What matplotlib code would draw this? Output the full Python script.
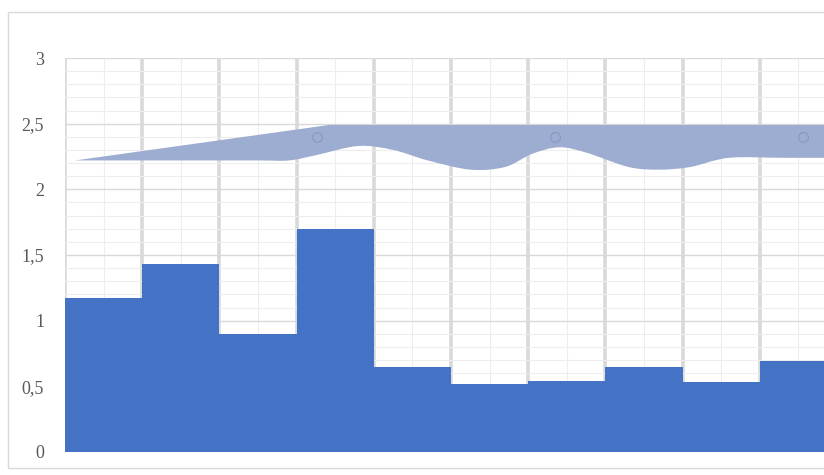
import matplotlib.pyplot as plt
from matplotlib.path import Path
from matplotlib.patches import PathPatch, Rectangle
import numpy as np

# bar values, one per category (last one is cut by the right edge)
bar_values = [1.17, 1.43, 0.90, 1.70, 0.65, 0.52, 0.54, 0.65, 0.53, 0.69]

# gray band: upper edge and wavy lower edge, x in category units
band_upper_x = [-0.37, 2.92, 9.6]
band_upper_y = [2.22, 2.49, 2.49]
band_lower_x = [-0.37, 1.0, 2.0, 2.4, 2.75, 3.3, 3.75, 4.2, 4.75, 5.2, 5.55, 5.9, 6.25, 6.8, 7.2, 7.6,
                8.1, 8.8, 9.6]
band_lower_y = [2.22, 2.22, 2.22, 2.22, 2.26, 2.33, 2.30, 2.22, 2.15, 2.17, 2.27, 2.32, 2.28, 2.17,
                2.15, 2.17, 2.24, 2.24, 2.24]

# hollow markers in the band
marker_x = [2.76, 5.85, 9.06]
marker_y = [2.40, 2.40, 2.40]

y_ticks = [0, 0.5, 1, 1.5, 2, 2.5, 3]
y_labels = ['0', '0,5', '1', '1,5', '2', '2,5', '3']

blue = '#4472c4'
band = '#9dadd1'


def smooth_segments(xs, ys):
    # catmull-rom through the points, as bezier pieces
    pts = np.column_stack([xs, ys])
    verts, codes = [], []
    for i in range(len(pts) - 1):
        p0 = pts[max(i - 1, 0)]
        p1 = pts[i]
        p2 = pts[i + 1]
        p3 = pts[min(i + 2, len(pts) - 1)]
        c1 = p1 + (p2 - p0) / 6.0
        c2 = p2 - (p3 - p1) / 6.0
        verts += [tuple(c1), tuple(c2), tuple(p2)]
        codes += [Path.CURVE4] * 3
    return verts, codes


fig = plt.figure(figsize=(8.24, 4.75), dpi=100)
ax = fig.add_axes([65 / 824, 23 / 475, 772 / 824, 394 / 475])

# outer chart frame
fig.patches.append(Rectangle((8 / 824, 7 / 475), 1.0, 456 / 475, transform=fig.transFigure,
                             fill=False, edgecolor='#d9d9d9', lw=1.0))

x = np.arange(len(bar_values))
ax.bar(x, bar_values, width=1.0, color=blue, zorder=3)

# band polygon: upper edge left->right, lower edge right->left
verts = list(zip(band_upper_x, band_upper_y))
codes = [Path.MOVETO] + [Path.LINETO] * (len(band_upper_x) - 1)
lx = band_lower_x[::-1]
ly = band_lower_y[::-1]
verts.append((lx[0], ly[0]))
codes.append(Path.LINETO)
v2, c2 = smooth_segments(lx, ly)
verts += v2
codes += c2
verts.append(verts[0])
codes.append(Path.CLOSEPOLY)
ax.add_patch(PathPatch(Path(verts, codes), facecolor=band, edgecolor='none', zorder=4))

ax.plot(marker_x, marker_y, linestyle='none', marker='o', markersize=7,
        markerfacecolor='none', markeredgecolor='#8797c0', markeredgewidth=0.8, zorder=5)

ax.set_xlim(-0.5, len(bar_values) - 0.5)
ax.set_ylim(0, 3)

# grid
ax.set_yticks(y_ticks)
ax.set_yticklabels(y_labels)
ax.set_yticks(np.arange(0, 3.01, 0.1), minor=True)
ax.set_xticks(np.arange(-0.5, len(bar_values), 1.0))
ax.set_xticks(x, minor=True)
ax.grid(axis='y', which='major', color='#d9d9d9', lw=1.0)
ax.grid(axis='y', which='minor', color='#ededed', lw=0.8)
ax.grid(axis='x', which='major', color='#d9d9d9', lw=2.6)
ax.grid(axis='x', which='minor', color='#ededed', lw=0.8)
ax.set_axisbelow(True)

ax.tick_params(axis='x', which='both', length=0, labelbottom=False)
ax.tick_params(axis='y', which='both', length=0, pad=15)
for lab in ax.get_yticklabels():
    lab.set_fontfamily('Liberation Serif')
    lab.set_fontsize(13)
    lab.set_color('#595959')
for s in ax.spines.values():
    s.set_visible(False)

fig.savefig('out.png', dpi=100)
